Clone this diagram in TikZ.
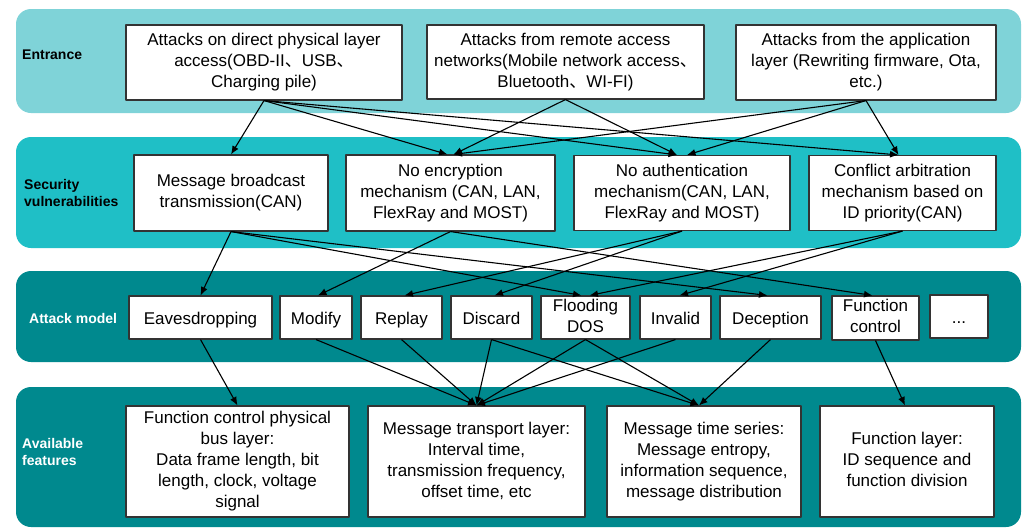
\documentclass[tikz,border=0pt]{standalone}
\usepackage{fontspec}
\setmainfont{Liberation Sans}
\newfontfamily\cjk{Noto Sans CJK SC}
\usetikzlibrary{arrows.meta}
\definecolor{entrycol}{HTML}{7FD3D8}
\definecolor{vulncol}{HTML}{1FBFC6}
\definecolor{modelcol}{HTML}{00898E}
\newcommand{\dunhao}{{\cjk 、}}
\begin{document}
\begin{tikzpicture}[x=1pt,y=-1pt,line join=round,
  band/.style={rounded corners=15pt},
  box/.style={draw=black!80,fill=white,line width=1.1pt,align=center,inner sep=0pt,font=\fontsize{17}{21}\selectfont,
    execute at begin node={\rule{0pt}{17pt}},execute at end node={\rule[-4pt]{0pt}{4pt}}},
  sz/.style 2 args={minimum width=#1,minimum height=#2},
  lab/.style={anchor=west,inner sep=0pt,align=left,font=\fontsize{14}{17}\selectfont\bfseries},
  arr/.style={-{Latex[length=8.5pt,width=7pt]},line width=1.1pt}]
\useasboundingbox (0,0) rectangle (1024,528);
% layers
\fill[entrycol,band] (16,9) rectangle (1021,113);
\fill[vulncol,band] (16,137) rectangle (1021,248);
\fill[modelcol,band] (16,271) rectangle (1021,362);
\fill[modelcol,band] (16,387) rectangle (1021,527);
\node[lab] (lE) at (22,55) {Entrance};
\node[lab] (lS) at (24,193) {Security\\vulnerabilities};
\node[lab,text=white] (lA) at (29,318) {Attack model};
\node[lab,text=white] (lF) at (22,452) {Available\\features};
% entrance
\node[box,sz={276}{75}] (E1) at (264,62.5) {Attacks on direct physical layer\\access(OBD-II\dunhao USB\dunhao\\Charging pile)};
\node[box,sz={277}{74}] (E2) at (565.5,62) {Attacks from remote access\\networks(Mobile network access\dunhao\\Bluetooth\dunhao WI-FI)};
\node[box,sz={260}{75}] (E3) at (866,62.5) {Attacks from the application\\layer (Rewriting firmware, Ota,\\etc.)};
% vulnerabilities
\node[box,sz={194}{76}] (S1) at (231,193) {Message broadcast\\transmission(CAN)};
\node[box,sz={209}{76}] (S2) at (450.5,193) {No encryption\\mechanism (CAN, LAN,\\FlexRay and MOST)};
\node[box,sz={216}{75}] (S3) at (682,193) {No authentication\\mechanism(CAN, LAN,\\FlexRay and MOST)};
\node[box,sz={187}{75}] (S4) at (902.5,193) {Conflict arbitration\\mechanism based on\\ID priority(CAN)};
% attack model
\node[box,sz={143}{43}] (A1) at (200.5,317.5) {Eavesdropping};
\node[box,sz={72}{43}] (A2) at (316,317.5) {Modify};
\node[box,sz={81}{43}] (A3) at (401.5,317.5) {Replay};
\node[box,sz={81}{43}] (A4) at (491.5,317.5) {Discard};
\node[box,sz={89}{43}] (A5) at (585.5,317.5) {Flooding\\DOS};
\node[box,sz={71}{43}] (A6) at (675.5,317.5) {Invalid};
\node[box,sz={101}{43}] (A7) at (770.5,317.5) {Deception};
\node[box,sz={87}{44}] (A8) at (875.5,318) {Function\\control};
\node[box,sz={58}{43}] (A9) at (959,316.5) {...};
% features
\node[box,sz={223}{111}] (F1) at (237.5,461.5) {Function control physical\\bus layer:\\Data frame length, bit\\length, clock, voltage\\signal};
\node[box,sz={217}{111}] (F2) at (476.5,461.5) {Message transport layer:\\Interval time,\\transmission frequency,\\offset time, etc};
\node[box,sz={194}{111}] (F3) at (704,461.5) {Message time series:\\Message entropy,\\information sequence,\\message distribution};
\node[box,sz={174}{111}] (F4) at (907,461.5) {Function layer:\\ID sequence and\\function division};
% connectors
\foreach \a/\b/\s in {E1/S1/0,E1/S2/-3,E1/S3/-5,E1/S4/-4,E2/S2/3,E2/S3/-5,E3/S2/3,E3/S3/5,E3/S4/-4}
  \draw[arr] (\a.south) -- ([xshift=\s]\b.north);
\foreach \a/\b/\s in {S1/A1/0,S1/A5/-4,S1/A7/-3,S2/A2/2,S2/A8/-3,S3/A3/3,S3/A4/3,S4/A5/4,S4/A6/4}
  \draw[arr] (\a.south) -- ([xshift=\s]\b.north);
\foreach \a/\b/\s in {A1/F1/0,A2/F2/0,A3/F2/0,A4/F2/0,A5/F2/0,A6/F2/0,A4/F3/-5,A5/F3/-5,A7/F3/-5,A8/F4/-2}
  \draw[arr] (\a.south) -- ([xshift=\s]\b.north);
\end{tikzpicture}
\end{document}
